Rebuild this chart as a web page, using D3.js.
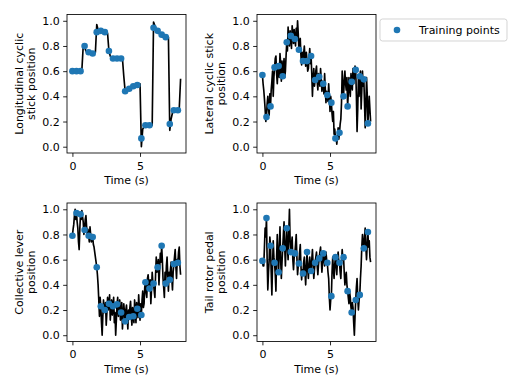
<!DOCTYPE html>
<html>
<head>
<meta charset="utf-8">
<script src="https://cdn.jsdelivr.net/npm/d3@7"></script>
<style>
  body { margin: 0; background: #fff; }
  text { font-family: "DejaVu Sans", sans-serif; }
</style>
</head>
<body>
<svg id="chart" width="519" height="389"></svg>
<script>
// times of the training points (s)
const pointTimes = [0, 0.3, 0.6, 0.9, 1.2, 1.5, 1.8, 2.1, 2.4, 2.7, 3.0, 3.3, 3.6, 3.9,
  4.2, 4.5, 4.8, 5.1, 5.4, 5.7, 6.0, 6.3, 6.6, 6.9, 7.2, 7.5, 7.8];

// longitudinal stick, sampled every 0.1 s
const longitudinalLine = [
  0.60, 0.60, 0.60, 0.60, 0.60, 0.60, 0.60, 0.61, 0.80, 0.79,
  0.76, 0.75, 0.75, 0.74, 0.74, 0.74, 0.74, 0.75, 0.97, 0.93,
  0.92, 0.92, 0.92, 0.91, 0.91, 0.90, 0.90, 0.76, 0.72, 0.70,
  0.70, 0.70, 0.70, 0.70, 0.70, 0.70, 0.70, 0.70, 0.56, 0.44,
  0.45, 0.46, 0.46, 0.47, 0.47, 0.48, 0.48, 0.49, 0.49, 0.49,
  0.50, 0.00, 0.14, 0.16, 0.17, 0.17, 0.17, 0.17, 0.17, 0.17,
  0.99, 0.96, 0.93, 0.92, 0.90, 0.89, 0.88, 0.87, 0.87, 0.87,
  0.87, 0.87, 0.13, 0.22, 0.27, 0.29, 0.29, 0.29, 0.29, 0.30,
  0.54
];
const longitudinalPoints = [0.60, 0.60, 0.60, 0.80, 0.75, 0.74, 0.91, 0.92, 0.91, 0.76,
  0.70, 0.70, 0.70, 0.44, 0.46, 0.48, 0.49, 0.066, 0.17, 0.17, 0.945, 0.92, 0.89, 0.87,
  0.18, 0.29, 0.29];

// the other three signals, sampled every 0.05 s
const lateralLine = [
  0.57, 0.50, 0.45, 0.38, 0.30, 0.20, 0.235, 0.34, 0.40, 0.30, 0.25, 0.42, 0.32, 0.45, 0.52, 0.60, 0.40, 0.55, 0.63, 0.70,
  0.72, 0.58, 0.50, 0.62, 0.64, 0.55, 0.74, 0.66, 0.52, 0.68, 0.56, 0.62, 0.70, 0.55, 0.60, 0.72, 0.83, 0.76, 0.95, 0.85,
  0.80, 0.92, 0.88, 0.78, 0.96, 0.90, 0.82, 0.93, 0.855, 0.80, 0.94, 0.86, 1.00, 0.90, 0.77, 0.84, 0.86, 0.72, 0.65, 0.75,
  0.68, 0.74, 0.80, 0.70, 0.64, 0.75, 0.68, 0.60, 0.62, 0.70, 0.78, 0.66, 0.72, 0.58, 0.40, 0.55, 0.62, 0.48, 0.53, 0.60,
  0.64, 0.52, 0.45, 0.58, 0.555, 0.48, 0.62, 0.54, 0.44, 0.52, 0.50, 0.42, 0.58, 0.46, 0.35, 0.44, 0.41, 0.36, 0.50, 0.40,
  0.28, 0.40, 0.35, 0.26, 0.20, 0.28, 0.10, 0.14, 0.066, 0.08, 0.02, 0.08, 0.15, 0.06, 0.11, 0.18, 0.22, 0.35, 0.60, 0.48,
  0.40, 0.52, 0.60, 0.50, 0.45, 0.55, 0.32, 0.42, 0.55, 0.46, 0.40, 0.58, 0.515, 0.45, 0.62, 0.50, 0.55, 0.64, 0.61, 0.40,
  0.12, 0.30, 0.55, 0.40, 0.56, 0.60, 0.30, 0.45, 0.60, 0.48, 0.535, 0.35, 0.15, 0.32, 0.55, 0.42, 0.185, 0.28, 0.40, 0.30,
  0.20
];
const lateralPoints = [0.57, 0.235, 0.32, 0.63, 0.64, 0.56, 0.83, 0.88, 0.855, 0.77,
  0.68, 0.68, 0.72, 0.53, 0.555, 0.50, 0.41, 0.35, 0.066, 0.11, 0.40, 0.32, 0.515, 0.61,
  0.56, 0.535, 0.185];

const collectiveLine = [
  0.79, 0.84, 0.88, 0.95, 1.00, 0.92, 0.97, 0.90, 0.85, 0.74, 0.68, 0.85, 0.96, 0.92, 0.99, 0.94, 0.90, 0.80, 0.835, 0.92,
  0.95, 0.86, 0.80, 0.84, 0.79, 0.74, 0.86, 0.80, 0.74, 0.80, 0.78, 0.72, 0.70, 0.66, 0.62, 0.58, 0.54, 0.48, 0.40, 0.28,
  0.15, 0.30, 0.23, 0.10, 0.00, 0.15, 0.28, 0.18, 0.20, 0.26, 0.08, 0.18, 0.30, 0.20, 0.25, 0.32, 0.12, 0.20, 0.28, 0.16,
  0.23, 0.30, 0.10, 0.18, 0.00, 0.12, 0.245, 0.30, 0.15, 0.22, 0.28, 0.12, 0.18, 0.26, 0.05, 0.15, 0.25, 0.18, 0.11, 0.20,
  0.24, 0.14, 0.05, 0.20, 0.145, 0.22, 0.27, 0.16, 0.08, 0.22, 0.15, 0.10, 0.28, 0.20, 0.10, 0.26, 0.21, 0.14, 0.32, 0.22,
  0.12, 0.25, 0.16, 0.28, 0.35, 0.22, 0.25, 0.38, 0.42, 0.34, 0.30, 0.45, 0.48, 0.40, 0.37, 0.44, 0.25, 0.36, 0.50, 0.42,
  0.41, 0.35, 0.30, 0.48, 0.62, 0.50, 0.54, 0.60, 0.40, 0.52, 0.65, 0.58, 0.71, 0.60, 0.45, 0.38, 0.30, 0.50, 0.41, 0.55,
  0.62, 0.48, 0.35, 0.50, 0.44, 0.52, 0.58, 0.45, 0.36, 0.50, 0.565, 0.62, 0.68, 0.55, 0.45, 0.60, 0.575, 0.66, 0.70, 0.55,
  0.48
];
const collectivePoints = [0.79, 0.97, 0.96, 0.835, 0.79, 0.78, 0.54, 0.23, 0.20, 0.25,
  0.23, 0.245, 0.18, 0.11, 0.145, 0.15, 0.21, 0.16, 0.42, 0.37, 0.41, 0.54, 0.71, 0.41,
  0.44, 0.565, 0.575];

const tailRotorLine = [
  0.59, 0.55, 0.55, 0.70, 0.85, 0.78, 0.93, 0.60, 0.36, 0.50, 0.60, 0.78, 0.71, 0.50, 0.32, 0.55, 0.75, 0.62, 0.575, 0.48,
  0.35, 0.62, 0.80, 0.62, 0.50, 0.70, 0.86, 0.60, 0.45, 0.58, 0.69, 0.80, 0.90, 0.70, 0.55, 0.72, 0.85, 0.70, 0.60, 0.82,
  1.00, 0.75, 0.66, 0.72, 0.78, 0.60, 0.52, 0.62, 0.65, 0.72, 0.80, 0.62, 0.48, 0.55, 0.57, 0.66, 0.72, 0.55, 0.44, 0.52,
  0.49, 0.58, 0.62, 0.50, 0.40, 0.55, 0.66, 0.52, 0.45, 0.56, 0.62, 0.55, 0.51, 0.60, 0.68, 0.56, 0.45, 0.52, 0.575, 0.62,
  0.66, 0.55, 0.48, 0.56, 0.61, 0.66, 0.70, 0.60, 0.50, 0.58, 0.65, 0.60, 0.55, 0.62, 0.66, 0.60, 0.575, 0.50, 0.45, 0.30,
  0.20, 0.28, 0.31, 0.50, 0.62, 0.52, 0.45, 0.56, 0.62, 0.55, 0.48, 0.60, 0.66, 0.58, 0.575, 0.50, 0.45, 0.58, 0.68, 0.60,
  0.62, 0.50, 0.40, 0.46, 0.50, 0.40, 0.35, 0.30, 0.25, 0.34, 0.30, 0.22, 0.18, 0.26, 0.22, 0.10, 0.00, 0.15, 0.28, 0.38,
  0.45, 0.30, 0.20, 0.28, 0.32, 0.45, 0.55, 0.70, 0.80, 0.72, 0.69, 0.78, 0.85, 0.70, 0.60, 0.72, 0.82, 0.70, 0.75, 0.62,
  0.58
];
const tailRotorPoints = [0.59, 0.93, 0.71, 0.575, 0.50, 0.69, 0.85, 0.66, 0.65, 0.57,
  0.49, 0.66, 0.51, 0.575, 0.61, 0.65, 0.575, 0.31, 0.62, 0.575, 0.62, 0.35, 0.18, 0.28,
  0.32, 0.69, 0.82];

const xTicks = [0, 5];
const yTicks = [0, 0.2, 0.4, 0.6, 0.8, 1.0];

const panels = [
  { line: longitudinalLine, step: 0.1, points: longitudinalPoints, label: ['Longitudinal cyclic', 'stick position'], left: 67, top: 14.5 },
  { line: lateralLine, step: 0.05, points: lateralPoints, label: ['Lateral cyclic stick', 'position'], left: 257, top: 14.5 },
  { line: collectiveLine, step: 0.05, points: collectivePoints, label: ['Collective lever', 'position'], left: 67, top: 203 },
  { line: tailRotorLine, step: 0.05, points: tailRotorPoints, label: ['Tail rotor pedal', 'position'], left: 257, top: 203 }
];

const pw = 119;
const ph = 138.5;
const blue = '#1f77b4';
const fontSize = '11px';

const svg = d3.select('#chart');

const xscale = d3.scaleLinear().domain([-0.4, 8.4]).range([0, pw]);
const yscale = d3.scaleLinear().domain([-0.05, 1.05]).range([ph, 0]);

panels.forEach((p) => {
  const g = svg.append('g').attr('transform', `translate(${p.left}, ${p.top})`);

  const lineGen = d3.line()
    .x((d, i) => xscale(i * p.step))
    .y((d) => yscale(d));

  g.append('path')
    .datum(p.line)
    .attr('d', lineGen)
    .attr('fill', 'none')
    .attr('stroke', '#000')
    .attr('stroke-width', 1.65)
    .attr('stroke-linejoin', 'round');

  g.selectAll('circle')
    .data(p.points)
    .enter()
    .append('circle')
    .attr('cx', (d, i) => xscale(pointTimes[i]))
    .attr('cy', (d) => yscale(d))
    .attr('r', 3.3)
    .attr('fill', blue);

  // frame
  g.append('rect')
    .attr('width', pw)
    .attr('height', ph)
    .attr('fill', 'none')
    .attr('stroke', '#000')
    .attr('stroke-width', 0.85);

  const bottomAxis = d3.axisBottom(xscale)
    .tickValues(xTicks)
    .tickFormat(d3.format('d'))
    .tickSize(3.85)
    .tickPadding(5);

  const ax = g.append('g')
    .attr('transform', `translate(0, ${ph})`)
    .call(bottomAxis);

  const leftAxis = d3.axisLeft(yscale)
    .tickValues(yTicks)
    .tickFormat(d3.format('.1f'))
    .tickSize(3.85)
    .tickPadding(3.5);

  const ay = g.append('g').call(leftAxis);

  [ax, ay].forEach((a) => {
    a.select('.domain').remove();
    a.selectAll('line').attr('stroke', '#000').attr('stroke-width', 0.85);
    a.selectAll('text').attr('fill', '#000').style('font-size', fontSize).style('font-family', '"DejaVu Sans", sans-serif');
  });

  g.append('text')
    .text('Time (s)')
    .attr('x', pw / 2)
    .attr('y', ph + 31)
    .attr('text-anchor', 'middle')
    .style('font-size', fontSize);

  p.label.forEach((line, i) => {
    g.append('text')
      .text(line)
      .attr('transform', `translate(${-48 + i * 12}, ${ph / 2}) rotate(-90)`)
      .attr('dy', '0.35em')
      .attr('text-anchor', 'middle')
      .style('font-size', fontSize);
  });
});

// legend
const legend = svg.append('g').attr('transform', 'translate(380, 19)');

legend.append('rect')
  .attr('width', 127)
  .attr('height', 22)
  .attr('rx', 2.5)
  .attr('fill', '#fff')
  .attr('stroke', '#cccccc')
  .attr('stroke-width', 0.85);

legend.append('circle')
  .attr('cx', 17)
  .attr('cy', 11)
  .attr('r', 3.3)
  .attr('fill', blue);

legend.append('text')
  .text('Training points')
  .attr('x', 39)
  .attr('y', 11)
  .attr('dy', '0.35em')
  .style('font-size', fontSize);
</script>
</body>
</html>
